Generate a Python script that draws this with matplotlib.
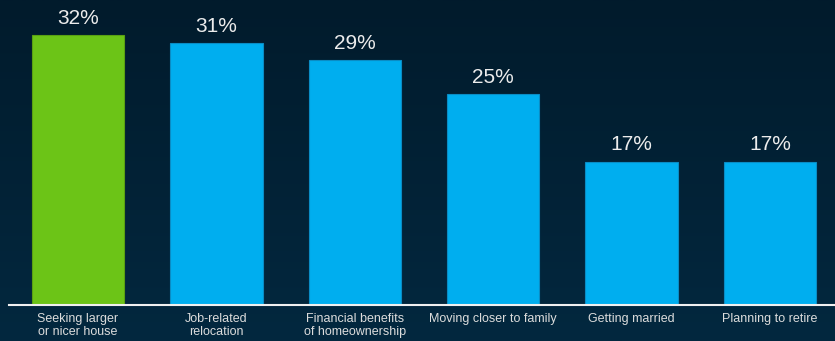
import matplotlib.pyplot as plt
import numpy as np
from matplotlib.colors import LinearSegmentedColormap

# Chart data
categories = ['Seeking larger\nor nicer house', 'Job-related\nrelocation', 'Financial benefits\nof homeownership',
              'Moving closer to family', 'Getting married', 'Planning to retire']
values = [32, 31, 29, 25, 17, 17]
bar_colors = ['#6cc417', '#00aeef', '#00aeef', '#00aeef', '#00aeef', '#00aeef']
edge_colors = ['#5aa012', '#0a8cc4', '#0a8cc4', '#0a8cc4', '#0a8cc4', '#0a8cc4']

plt.rcParams['font.family'] = ['Liberation Sans', 'DejaVu Sans']

fig = plt.figure(figsize=(8.35, 3.41), dpi=100)

# Background gradient (dark navy)
bg = fig.add_axes([0, 0, 1, 1])
grad = np.linspace(0, 1, 256).reshape(-1, 1)
cmap = LinearSegmentedColormap.from_list('bg', ['#011b2c', '#03283f'])
bg.imshow(grad, aspect='auto', cmap=cmap, extent=[0, 1, 0, 1], origin='upper')
bg.set_axis_off()

ax = fig.add_axes([9 / 835, 36 / 341, 1 - 9 / 835, 305 / 341])
ax.set_facecolor('none')

x = np.arange(len(values))
ax.bar(x, values, width=0.668, color=bar_colors, edgecolor=edge_colors, linewidth=0.8)

for xi, v in zip(x, values):
    ax.text(xi, v + 0.85, f'{v}%', ha='center', va='bottom', fontsize=15, color='#ececec')

ax.set_xlim(-0.4986, 5.47)
ax.set_ylim(0, 36.14)

ax.set_xticks(x)
ax.set_xticklabels(categories, fontsize=9, color='#dcdcdc', linespacing=1.1)
ax.tick_params(axis='x', length=0, pad=6)
ax.set_yticks([])

for s in ['top', 'right', 'left']:
    ax.spines[s].set_visible(False)
ax.spines['bottom'].set_color('#f0f0f0')
ax.spines['bottom'].set_linewidth(1.5)

fig.savefig('out.png', dpi=100)
